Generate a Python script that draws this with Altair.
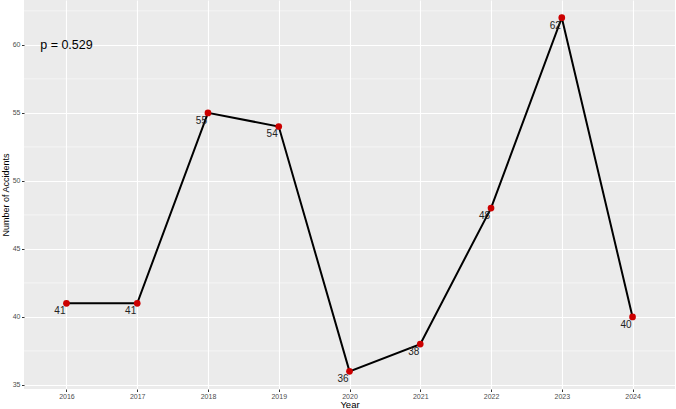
import altair as alt
import pandas as pd

years = [2016, 2017, 2018, 2019, 2020, 2021, 2022, 2023, 2024]
accidents = [41, 41, 55, 54, 36, 38, 48, 62, 40]
y_ticks = [35, 40, 45, 50, 55, 60]
y_minor = [37.5, 42.5, 47.5, 52.5, 57.5, 62.5]
p_text = "p = 0.529"

df = pd.DataFrame({"Year": years, "Accidents": accidents, "label": [str(v) for v in accidents]})
minor_df = pd.DataFrame({"y": y_minor})
ann_df = pd.DataFrame({"Year": [2016], "Accidents": [60], "text": [p_text]})

FONT = "Liberation Sans"
xs = alt.Scale(domain=[2015.4, 2024.6], nice=False, zero=False)
ys = alt.Scale(domain=[34.7, 63.3], nice=False, zero=False)

x_axis = alt.Axis(values=years, format="d", title="Year", grid=True, gridColor="white",
                  gridWidth=1.1, domain=False, tickColor="#333333", tickSize=2.5,
                  labelFontSize=7, labelColor="#4D4D4D", labelPadding=1,
                  titleFontSize=9.5, titleFontWeight="normal", titleColor="black",
                  titlePadding=0, labelFont=FONT, titleFont=FONT)
y_axis = alt.Axis(values=y_ticks, title="Number of Accidents", grid=True, gridColor="white",
                  gridWidth=1.1, domain=False, tickColor="#333333", tickSize=2.5,
                  labelFontSize=7, labelColor="#4D4D4D", labelPadding=1.5,
                  titleFontSize=9, titleFontWeight="normal", titleColor="black",
                  titlePadding=2, labelFont=FONT, titleFont=FONT)

minor = alt.Chart(minor_df).mark_rule(color="white", strokeWidth=0.5).encode(
    y=alt.Y("y:Q", scale=ys, axis=y_axis)
)

base = alt.Chart(df)
line = base.mark_line(color="black", strokeWidth=2).encode(
    x=alt.X("Year:Q", scale=xs, axis=x_axis),
    y=alt.Y("Accidents:Q", scale=ys, axis=y_axis),
)
points = base.mark_circle(color="#CC0000", opacity=1, size=45).encode(
    x=alt.X("Year:Q", scale=xs),
    y=alt.Y("Accidents:Q", scale=ys),
)
labels = base.mark_text(align="right", baseline="top", dx=-1, dy=3, fontSize=10,
                        font=FONT, color="#222222").encode(
    x=alt.X("Year:Q", scale=xs),
    y=alt.Y("Accidents:Q", scale=ys),
    text="label:N",
)
ann = alt.Chart(ann_df).mark_text(align="center", baseline="middle", fontSize=12.5,
                                  font=FONT, color="black").encode(
    x=alt.X("Year:Q", scale=xs),
    y=alt.Y("Accidents:Q", scale=ys),
    text="text:N",
)

chart = alt.layer(minor, line, points, labels, ann).properties(
    width=651, height=389,
    autosize=alt.AutoSizeParams(type="none"),
    padding={"left": 24, "top": 0, "right": 1, "bottom": 20},
    background="white",
).configure_view(fill="#EBEBEB", stroke=None)

chart.save("out.html", embed_options={"renderer": "svg", "actions": False})
